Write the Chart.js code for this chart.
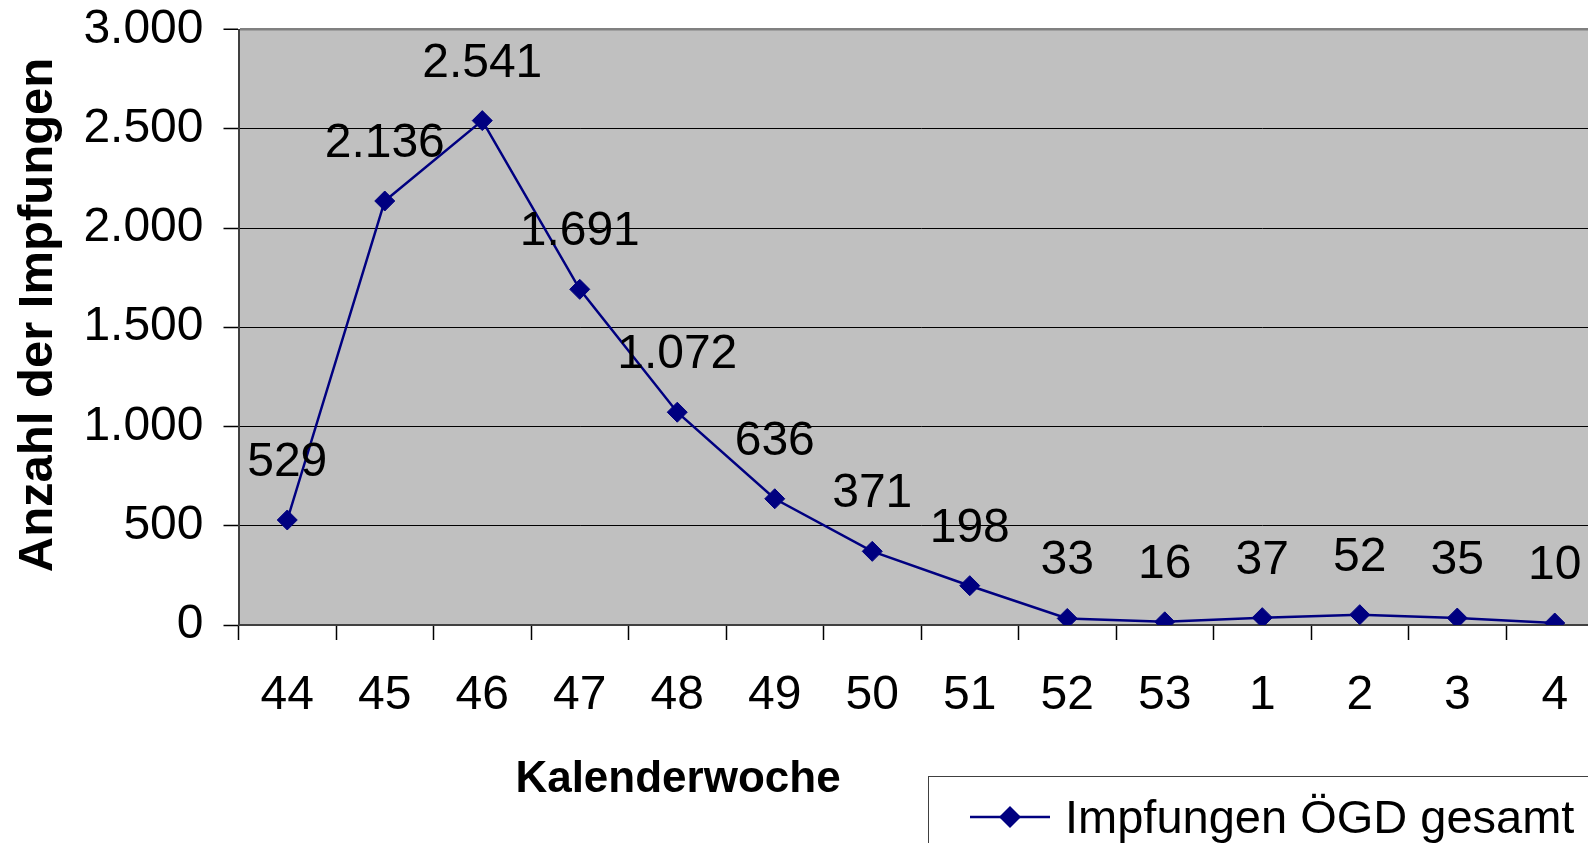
<!DOCTYPE html>
<html>
<head>
<meta charset="utf-8">
<script src="https://cdn.jsdelivr.net/npm/chart.js@4/dist/chart.umd.min.js"></script>
<style>
  html, body { margin: 0; padding: 0; background: #fff; overflow: hidden; }
  #wrap { width: 1588px; height: 843px; overflow: hidden; position: relative; background: #fff; }
  canvas { display: block; }
</style>
</head>
<body>
<div id="wrap"><canvas id="c" width="1620" height="843" style="width:1620px;height:843px"></canvas></div>
<script>
// ---- data ----
const categories = ['44', '45', '46', '47', '48', '49', '50', '51', '52', '53', '1', '2', '3', '4'];
const values = [529, 2136, 2541, 1691, 1072, 636, 371, 198, 33, 16, 37, 52, 35, 10];
const seriesName = 'Impfungen ÖGD gesamt';
const xTitle = 'Kalenderwoche';
const yTitle = 'Anzahl der Impfungen';
const yMin = 0;
const yMax = 3000;
const yStep = 500;

const FONT = "'Liberation Sans', Arial, Helvetica, sans-serif";
const NAVY = '#000080';

function fmt(v) {
  return String(v).replace(/\B(?=(\d{3})+(?!\d))/g, '.');
}

const bgPlugin = {
  id: 'plotBg',
  beforeDraw(chart) {
    const { ctx, chartArea: a } = chart;
    ctx.save();
    ctx.fillStyle = '#C0C0C0';
    ctx.fillRect(a.left, a.top, a.right - a.left, a.bottom - a.top);
    ctx.restore();
  }
};

const labelPlugin = {
  id: 'valueLabels',
  afterDatasetsDraw(chart) {
    const { ctx } = chart;
    const meta = chart.getDatasetMeta(0);
    ctx.save();
    ctx.font = '48px ' + FONT;
    ctx.fillStyle = '#000';
    ctx.textAlign = 'center';
    ctx.textBaseline = 'alphabetic';
    meta.data.forEach((p, i) => {
      ctx.fillText(fmt(values[i]), p.x, p.y - 44);
    });
    ctx.restore();
  }
};

const extrasPlugin = {
  id: 'extras',
  afterDraw(chart) {
    const { ctx } = chart;
    ctx.save();
    // x axis title
    ctx.fillStyle = '#000';
    ctx.font = 'bold 44px ' + FONT;
    ctx.textAlign = 'center';
    ctx.textBaseline = 'alphabetic';
    ctx.fillText(xTitle, 678, 792);
    // y axis title
    ctx.save();
    ctx.translate(52, 315);
    ctx.rotate(-Math.PI / 2);
    ctx.font = 'bold 49px ' + FONT;
    ctx.fillText(yTitle, 0, 0);
    ctx.restore();
    // legend
    const lx = 928.5, ly = 776.5;
    ctx.strokeStyle = '#404040';
    ctx.lineWidth = 1;
    ctx.strokeRect(lx, ly, 800, 200);
    const cy = 817;
    ctx.strokeStyle = NAVY;
    ctx.lineWidth = 2.5;
    ctx.beginPath();
    ctx.moveTo(970, cy);
    ctx.lineTo(1050, cy);
    ctx.stroke();
    ctx.fillStyle = NAVY;
    ctx.beginPath();
    ctx.moveTo(1010 - 11, cy);
    ctx.lineTo(1010, cy - 11);
    ctx.lineTo(1010 + 11, cy);
    ctx.lineTo(1010, cy + 11);
    ctx.closePath();
    ctx.fill();
    ctx.fillStyle = '#000';
    ctx.font = '47px ' + FONT;
    ctx.textAlign = 'left';
    ctx.fillText(seriesName, 1065, 833);
    ctx.restore();
  }
};

new Chart(document.getElementById('c'), {
  type: 'line',
  data: {
    labels: categories,
    datasets: [{
      label: seriesName,
      data: values,
      borderColor: NAVY,
      backgroundColor: NAVY,
      borderWidth: 2.5,
      pointStyle: 'rectRot',
      pointRadius: 10,
      pointBorderWidth: 1,
      pointBackgroundColor: NAVY,
      pointBorderColor: NAVY,
      tension: 0,
      fill: false
    }]
  },
  options: {
    responsive: false,
    devicePixelRatio: 1,
    animation: false,
    layout: { padding: { top: 29.5, right: 16.5, left: 0, bottom: 0 } },
    plugins: {
      legend: { display: false },
      tooltip: { enabled: false },
      title: { display: false }
    },
    scales: {
      x: {
        type: 'category',
        offset: true,
        afterFit(s) {
          s.height = 218;
          s.paddingLeft = 0; s.paddingRight = 0; s.paddingTop = 0; s.paddingBottom = 0;
        },
        grid: {
          display: true,
          offset: true,
          drawOnChartArea: false,
          drawTicks: true,
          tickLength: 15,
          tickColor: '#000',
          tickWidth: 1.5
        },
        border: { display: true, color: '#404040', width: 2 },
        ticks: {
          color: '#000',
          font: { family: FONT, size: 48 },
          padding: 27,
          maxRotation: 0,
          autoSkip: false
        }
      },
      y: {
        min: yMin,
        max: yMax,
        afterFit(s) {
          s.width = 238.5;
          s.paddingLeft = 0; s.paddingRight = 0; s.paddingTop = 0; s.paddingBottom = 0;
        },
        grid: {
          color: (c) => c.tick && c.tick.value === yMax ? '#808080' : (c.tick && c.tick.value === yMin ? '#404040' : '#000'),
          lineWidth: (c) => c.tick && c.tick.value === yMax ? 2.5 : 1,
          drawTicks: true,
          tickLength: 15,
          tickColor: '#000',
          tickWidth: 1.5
        },
        border: { display: true, color: '#404040', width: 2 },
        ticks: {
          stepSize: yStep,
          color: '#000',
          font: { family: FONT, size: 48 },
          padding: 20,
          callback: (v) => fmt(v)
        }
      }
    }
  },
  plugins: [bgPlugin, labelPlugin, extrasPlugin]
});
</script>
</body>
</html>
